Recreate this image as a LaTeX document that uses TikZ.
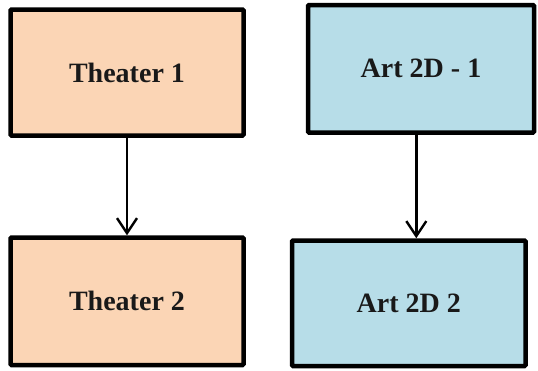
\documentclass[tikz,border=0pt]{standalone}
\usepackage{fontspec}
\setmainfont{Liberation Serif}[BoldFont={Liberation Serif Bold}]
\usetikzlibrary{arrows.meta}
\definecolor{peach}{HTML}{FBD5B5}
\definecolor{lblue}{HTML}{B7DDE8}
\tikzset{
  box/.style={draw=black, line width=4.5pt, rounded corners=1pt, inner sep=0pt,
    font=\fontsize{28}{31}\selectfont\bfseries, text=black!90},
  peachbox/.style={box, fill=peach},
  bluebox/.style={box, fill=lblue},
  arr/.style={line width=2.4pt, -{Straight Barb[length=15pt,width=20pt,line width=2.4pt]}}
}
\begin{document}
\begin{tikzpicture}[x=1pt,y=-1pt]
\useasboundingbox (0,0) rectangle (538,370);
\node[peachbox, minimum width=233pt, minimum height=126pt] (t1) at (127,72.5) {Theater 1};
\node[peachbox, minimum width=233pt, minimum height=127.5pt] (t2) at (127,301.25) {Theater 2};
\node[bluebox, minimum width=226pt, minimum height=127.5pt] (a1) at (421,68.75) {Art 2D - 1};
\node[bluebox, minimum width=233.5pt, minimum height=125.5pt] (a2) at (408.75,303.25) {Art 2D 2};
\coordinate (ax) at (416.3,0);
\draw[arr] (t1) -- (t2);
\draw[arr] (a1.south -| ax) -- (a2.north -| ax);
\end{tikzpicture}
\end{document}
